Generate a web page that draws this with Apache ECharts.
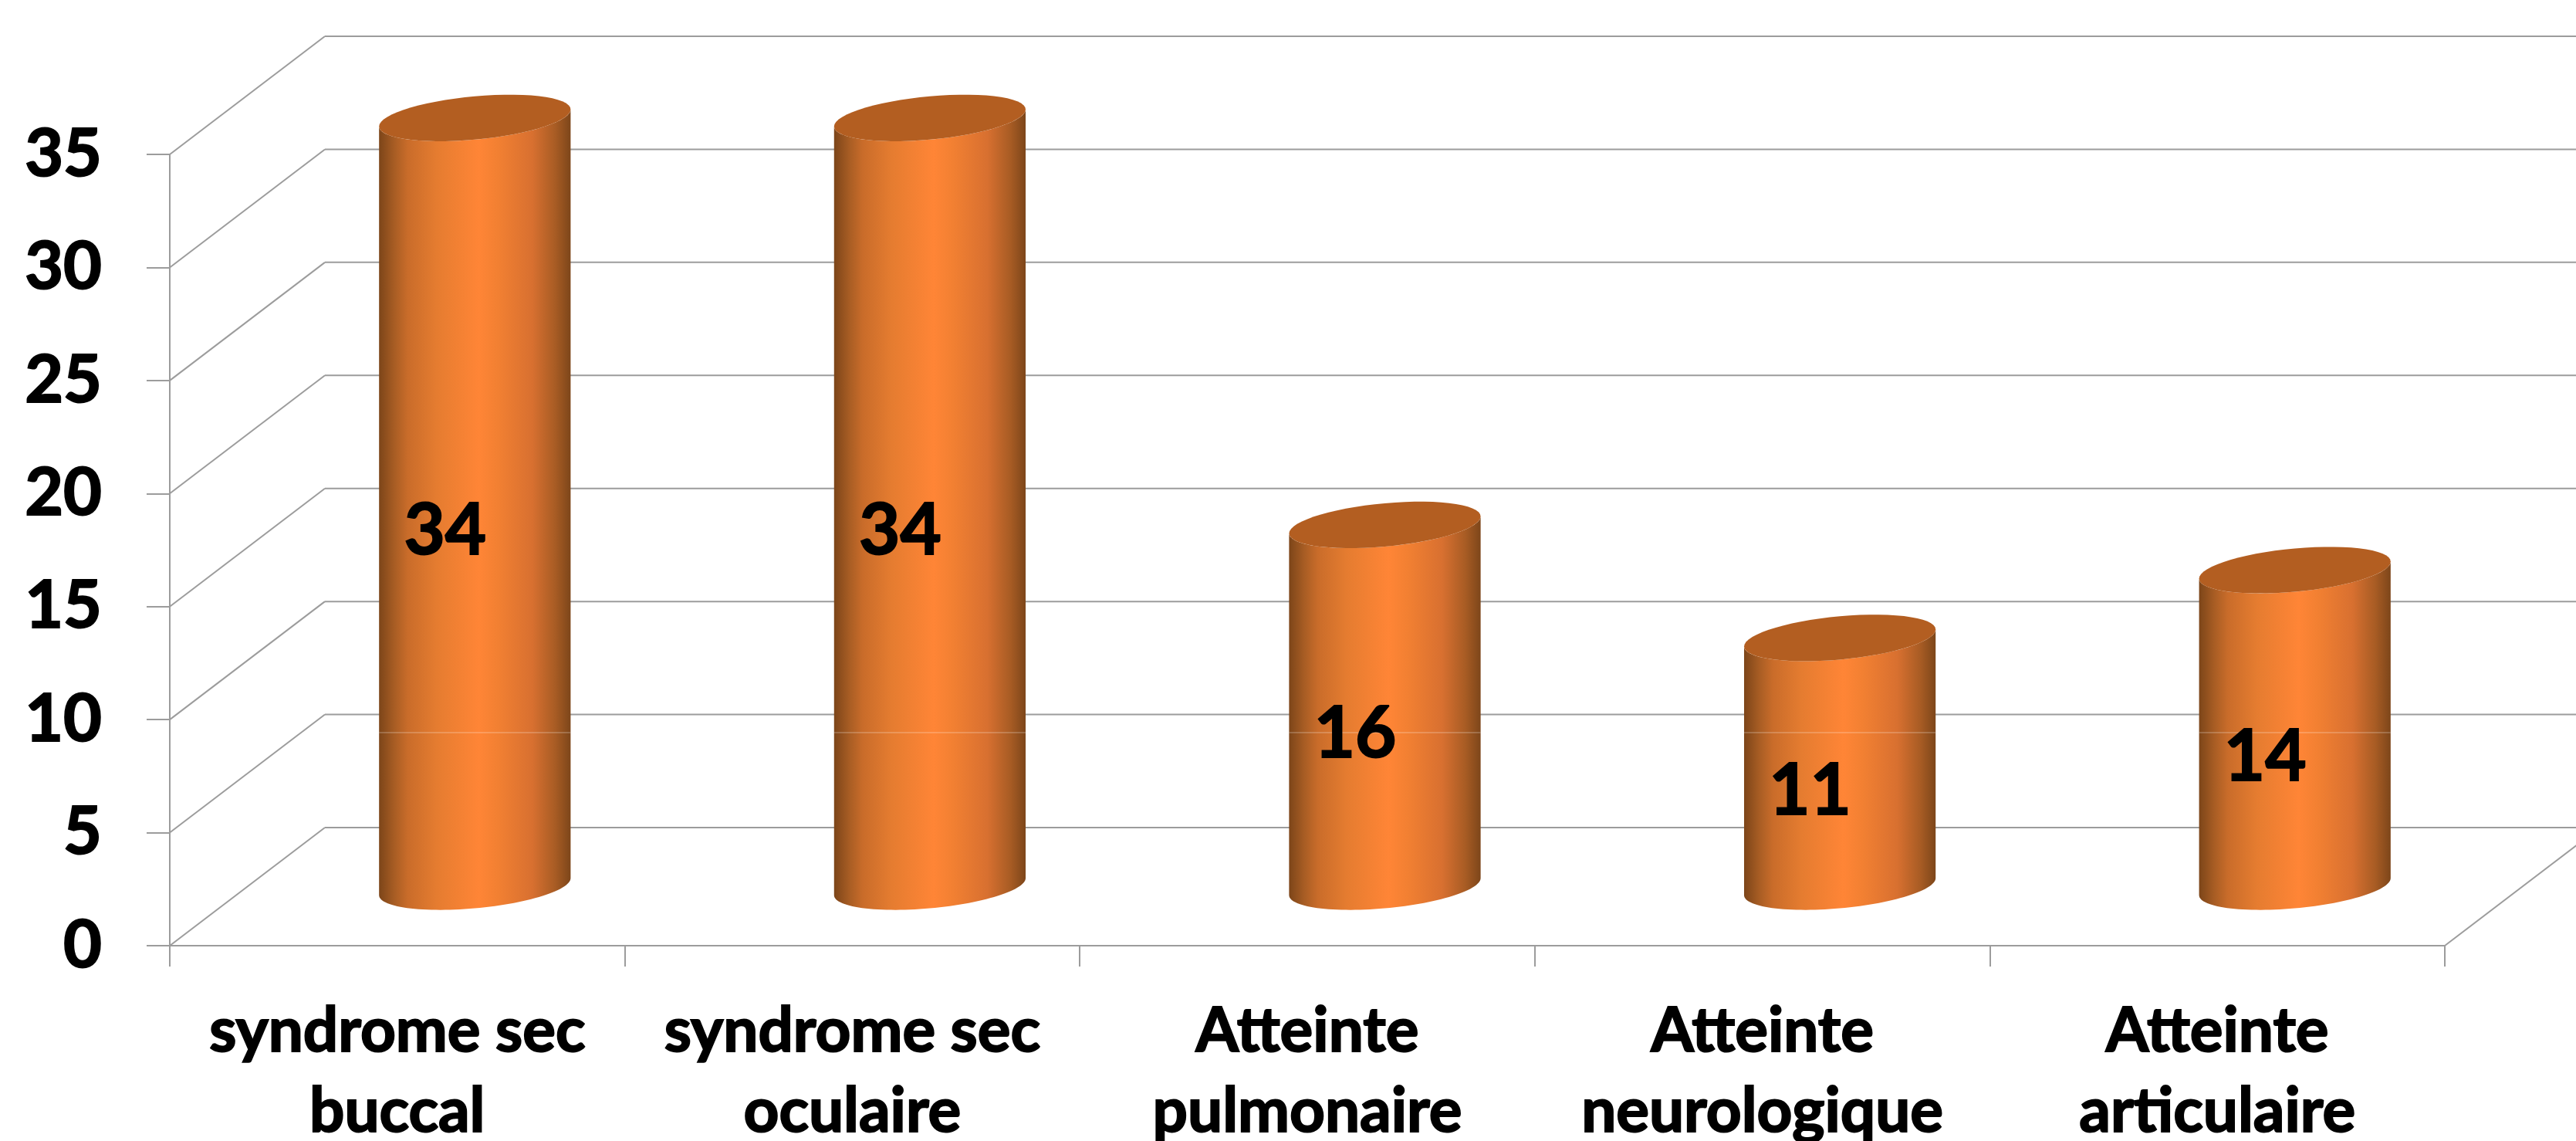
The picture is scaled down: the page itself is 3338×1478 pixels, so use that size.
<!DOCTYPE html>
<html><head><meta charset="utf-8">
<style>html,body{margin:0;padding:0;background:#fff}#c{width:3338px;height:1478px}</style>
<script src="https://cdn.jsdelivr.net/npm/echarts@6/dist/echarts.min.js"></script>
</head><body><div id="c"></div>
<script>
const categories = ['syndrome sec\nbuccal','syndrome sec\noculaire','Atteinte\npulmonaire','Atteinte\nneurologique','Atteinte\narticulaire'];
const values = [34,34,16,11,14];
const yTicks = [0,5,10,15,20,25,30,35];

const FONT = 'Lato';
const LINE = '#9c9c9c';
const DEPTH_X = 201, DEPTH_Y = 153;

function ellipse(cx, cy, a, tilt, b, from, to) {
  const pts = [];
  const n = 60;
  for (let i = 0; i <= n; i++) {
    const t = from + (to - from) * i / n;
    pts.push([cx + a * Math.cos(t), cy - tilt * Math.cos(t) + b * Math.sin(t)]);
  }
  return pts;
}

function renderPlanes(params, api) {
  const v = api.value(1);
  const p = api.coord([0, v]);
  const cs = params.coordSys;
  const x0 = cs.x, x1 = cs.x + cs.width;
  const style = {stroke: LINE, lineWidth: 2, fill: null};
  const children = [
    {type:'line', shape:{x1:x0, y1:p[1], x2:x0+DEPTH_X, y2:p[1]-DEPTH_Y}, style},
    {type:'line', shape:{x1:x0+DEPTH_X, y1:p[1]-DEPTH_Y, x2:api.getWidth(), y2:p[1]-DEPTH_Y}, style}
  ];
  if (v === 0) children.push({type:'line', shape:{x1:x1, y1:p[1], x2:x1+DEPTH_X, y2:p[1]-DEPTH_Y}, style});
  return {type:'group', children};
}

function renderCylinder(params, api) {
  const i = api.value(0), v = api.value(1);
  const base = api.coord([i, 0]);
  const top = api.coord([i, v]);
  const mid = api.coord([i, v / 2]);
  const size = api.size([1, 0]);
  const a = size[0] * 0.2105;
  const tilt = a * 0.089, b = a * 0.226;
  const cx = base[0] + DEPTH_X / 2;
  const by = base[1] - DEPTH_Y / 2, ty = top[1] - DEPTH_Y / 2;
  const bottomArc = ellipse(cx, by, a, tilt, b, 0, Math.PI);
  const side = [[cx + a, ty - tilt]].concat(bottomArc, [[cx - a, ty + tilt]],
    ellipse(cx, ty, a, tilt, b, Math.PI, 0));
  const grad = new echarts.graphic.LinearGradient(0,0,1,0,[
    {offset:0,color:'#7c4519'},{offset:0.08,color:'#a85d24'},{offset:0.15,color:'#c96c2a'},
    {offset:0.3,color:'#e57c30'},{offset:0.52,color:'#ff8536'},{offset:0.62,color:'#f28032'},
    {offset:0.8,color:'#d87030'},{offset:0.92,color:'#a85c24'},{offset:1,color:'#7d461a'}]);
  return {type:'group', children:[
    {type:'polygon', shape:{points:side}, style:{fill:grad}},
    {type:'polygon', shape:{points:ellipse(cx, ty, a, tilt, b, 0, Math.PI*2)}, style:{fill:'#b35e21'}},
    {type:'line', shape:{x1:cx-a, y1:949, x2:cx+a, y2:949}, style:{stroke:'rgba(255,255,255,0.4)', lineWidth:1}},
    {type:'text', z2:10, style:{text:String(v), x:base[0]+62, y:mid[1]-39, align:'center', verticalAlign:'middle',
      font:'bold 92px '+FONT, fill:'#000', stroke:'#000', lineWidth:2}}
  ]};
}

const chart = echarts.init(document.getElementById('c'), null, {renderer:'canvas', width:3338, height:1478});
chart.setOption({
  animation:false,
  backgroundColor:'#fff',
  grid:{left:220, right:170, top:200, bottom:253, containLabel:false, outerBoundsMode:'none'},
  xAxis:{type:'category', data:categories, boundaryGap:true,
    axisLine:{lineStyle:{color:LINE,width:2}},
    axisTick:{show:true,length:27,lineStyle:{color:LINE,width:2}},
    axisLabel:{color:'#000',fontFamily:FONT,fontWeight:'bold',fontSize:80,lineHeight:104,margin:59,interval:0,
      textBorderColor:'#000',textBorderWidth:2},
    splitLine:{show:false}},
  yAxis:{type:'value', min:0, max:35, interval:5,
    axisLine:{show:true,lineStyle:{color:LINE,width:2}},
    axisTick:{show:true,length:30,lineStyle:{color:LINE,width:2}},
    axisLabel:{color:'#000',fontFamily:FONT,fontWeight:'bold',fontSize:86,margin:88,padding:[8,0,0,0],
      textBorderColor:'#000',textBorderWidth:2},
    splitLine:{show:false}},
  series:[
    {type:'custom', z:1, silent:true, renderItem:renderPlanes, data:yTicks.map(v=>[0,v]), clip:false},
    {type:'custom', z:2, silent:true, renderItem:renderCylinder, data:values.map((v,i)=>[i,v]), clip:false}
  ]
});
</script></body></html>
